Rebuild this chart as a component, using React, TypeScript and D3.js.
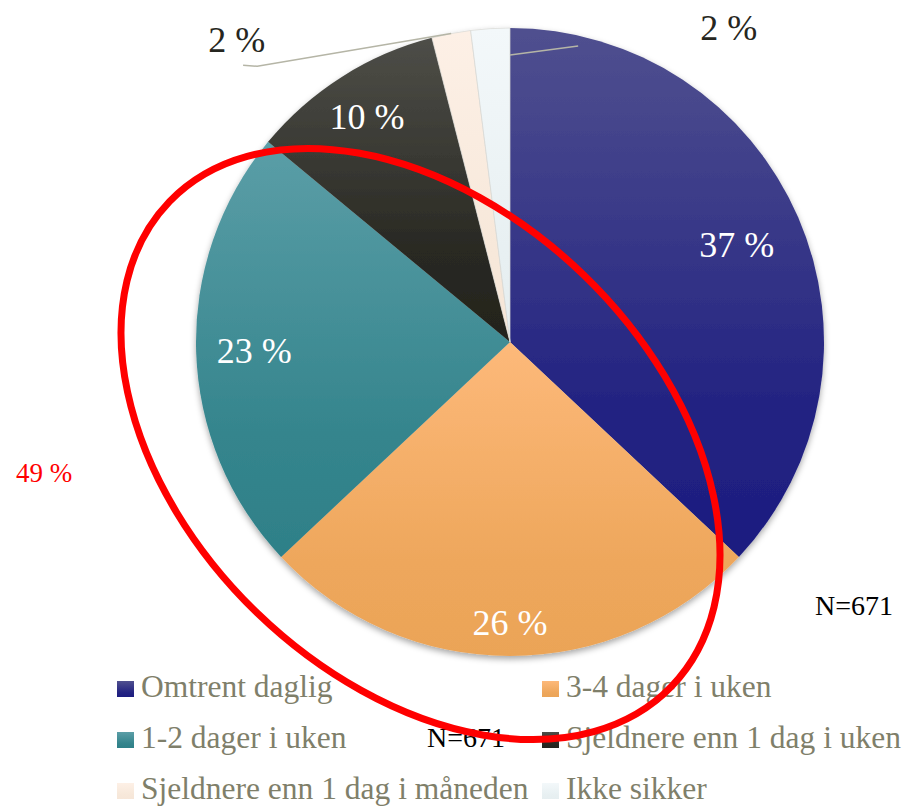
import * as d3 from "d3";
import { useEffect, useRef } from "react";

const categories = [
  "Omtrent daglig",
  "3-4 dager i uken",
  "1-2 dager i uken",
  "Sjeldnere enn 1 dag i uken",
  "Sjeldnere enn 1 dag i måneden",
  "Ikke sikker",
];
const values = [37, 26, 23, 10, 2, 2];
const labels = ["37 %", "26 %", "23 %", "10 %", "2 %", "2 %"];
const noteLabel = "49 %";
const nLabel = "N=671";

// gradient top / bottom per slice
const topColors = ["#50508f", "#fdb97a", "#5b9ea7", "#4e4e48", "#fdf0e6", "#f3f8fa"];
const bottomColors = ["#1c1c80", "#eba457", "#2e8088", "#23231c", "#f6e6d8", "#e6eef0"];

export default function App() {
  const ref = useRef<SVGSVGElement>(null);

  useEffect(() => {
    const width = 909;
    const height = 807;
    const cx = 510;
    const cy = 342;
    const R = 314;
    // excel "best fit" puts the inside labels at slightly different radii
    const labelR = [247, 280, 256, 267];
    const font = "'Liberation Serif', 'Times New Roman', serif";

    const svg = d3.select(ref.current);
    svg.selectAll("*").remove();
    svg.attr("width", width).attr("height", height);

    const defs = svg.append("defs");
    categories.forEach((c, i) => {
      const g = defs.append("linearGradient")
        .attr("id", `grad${i}`)
        .attr("x1", 0).attr("y1", 0).attr("x2", 0).attr("y2", 1);
      g.append("stop").attr("offset", "0%").attr("stop-color", topColors[i]);
      g.append("stop").attr("offset", "70%").attr("stop-color", d3.interpolateRgb(topColors[i], bottomColors[i])(0.85));
      g.append("stop").attr("offset", "100%").attr("stop-color", bottomColors[i]);
    });
    const shadow = defs.append("filter").attr("id", "shadow")
      .attr("x", "-10%").attr("y", "-10%").attr("width", "120%").attr("height", "120%");
    shadow.append("feDropShadow")
      .attr("dx", 0).attr("dy", 3).attr("stdDeviation", 3)
      .attr("flood-color", "#000").attr("flood-opacity", 0.35);

    const pie = d3.pie<number>().value(d => d).sort(null);
    const arcs = pie(values);
    const arc = d3.arc<d3.PieArcDatum<number>>().innerRadius(0).outerRadius(R);
    const labelPos = (d: d3.PieArcDatum<number>) => {
      const r = labelR[d.index];
      return d3.arc<d3.PieArcDatum<number>>().innerRadius(r).outerRadius(r).centroid(d);
    };

    const g = svg.append("g").attr("transform", `translate(${cx},${cy})`);

    g.append("g").attr("filter", "url(#shadow)")
      .selectAll("path")
      .data(arcs)
      .enter()
      .append("path")
      .attr("d", arc)
      .attr("fill", (d, i) => `url(#grad${i})`)
      .attr("stroke", (d, i) => (values[i] < 5 ? "#d9d9d4" : "none"))
      .attr("stroke-width", 0.7);

    // inside labels
    g.selectAll("text.in")
      .data(arcs.filter(d => d.data >= 5))
      .enter()
      .append("text")
      .attr("class", "in")
      .attr("x", d => labelPos(d)[0])
      .attr("y", d => labelPos(d)[1])
      .attr("dy", "0.35em")
      .attr("text-anchor", "middle")
      .attr("font-family", font)
      .attr("font-size", 36)
      .attr("fill", "#ffffff")
      .text(d => labels[d.index]);

    // outside labels for small slices, with leader lines
    const small = arcs.filter(d => d.data < 5);
    small.forEach((d, k) => {
      const mid = (d.startAngle + d.endAngle) / 2;
      const rim: [number, number] = [Math.sin(mid) * R, -Math.cos(mid) * R];
      let pts: [number, number][];
      let tx: number;
      let ty: number;
      if (k === 0) {
        pts = [rim, [-R * 0.805, -R * 0.878], [-R * 0.85, -R * 0.881]];
        tx = -R * 0.87;
        ty = -R * 0.925;
      } else {
        pts = [[0, -R * 0.914], [R * 0.217, -R * 0.943]];
        tx = R * 0.697;
        ty = -R * 0.962;
      }
      g.append("path")
        .attr("d", d3.line()(pts))
        .attr("fill", "none")
        .attr("stroke", "#b5b5a6")
        .attr("stroke-width", 1.5);
      g.append("text")
        .attr("x", tx)
        .attr("y", ty)
        .attr("text-anchor", "middle")
        .attr("font-family", font)
        .attr("font-size", 36)
        .attr("fill", "#262620")
        .text(labels[d.index]);
    });

    // legend
    const legend = svg.append("g");
    const colX = [117, 542];
    const rowY0 = 681;
    const rowStep = 51;
    categories.forEach((c, i) => {
      const x = colX[i % 2];
      const y = rowY0 + Math.floor(i / 2) * rowStep;
      legend.append("rect")
        .attr("x", x).attr("y", y)
        .attr("width", 17).attr("height", 16)
        .attr("fill", `url(#grad${i})`);
      legend.append("text")
        .attr("x", x + 24).attr("y", y + 16)
        .attr("font-family", font)
        .attr("font-size", 31.5)
        .attr("fill", "#7f7f6a")
        .text(c);
    });

    // N labels
    svg.append("text")
      .attr("x", 815).attr("y", 615)
      .attr("font-family", font).attr("font-size", 28).attr("fill", "#000")
      .text(nLabel);
    svg.append("text")
      .attr("x", 427).attr("y", 747)
      .attr("font-family", font).attr("font-size", 28).attr("fill", "#000")
      .text(nLabel);

    // red annotation ellipse
    svg.append("ellipse")
      .attr("cx", 0).attr("cy", 0)
      .attr("rx", 349).attr("ry", 235)
      .attr("transform", "translate(420.5,444) rotate(44)")
      .attr("fill", "none")
      .attr("stroke", "#ff0000")
      .attr("stroke-width", 7);

    svg.append("text")
      .attr("x", 16).attr("y", 482)
      .attr("font-family", font).attr("font-size", 27).attr("fill", "#ff0000")
      .text(noteLabel);
  }, []);

  return (
    <div style={{ position: "absolute", left: 0, top: 0, background: "#fff" }}>
      <svg ref={ref} style={{ display: "block" }} />
    </div>
  );
}
